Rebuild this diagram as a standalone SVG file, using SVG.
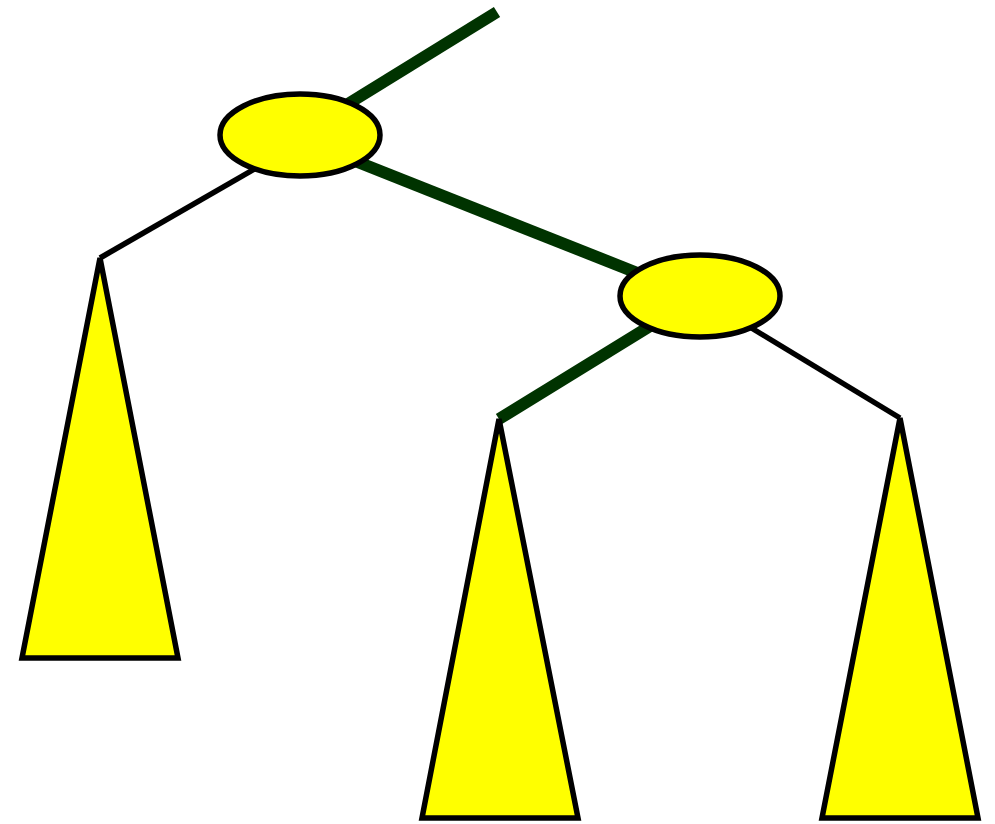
<svg xmlns="http://www.w3.org/2000/svg" width="995" height="824" viewBox="0 0 995 824">
<style>
.node{fill:#ffff00;stroke:#000;stroke-width:5.5;stroke-linejoin:miter}
.thin{stroke:#000;stroke-width:5.5;fill:none}
.thick{stroke:#003300;stroke-width:12;fill:none}
</style>
<rect width="995" height="824" fill="#fff"/>
<g id="connectors">
<line class="thick" x1="497" y1="12" x2="330" y2="115"/>
<line class="thick" x1="340" y1="155" x2="660" y2="282"/>
<line class="thick" x1="660" y1="320" x2="499" y2="419"/>
<line class="thin" x1="270" y1="160" x2="100" y2="258"/>
<line class="thin" x1="730" y1="315" x2="900" y2="418"/>
</g>
<g id="subtree-left"><polygon class="node" points="100,258 178,658 22,658"/></g>
<g id="subtree-mid"><polygon class="node" points="499,419 578,818 422,818"/></g>
<g id="subtree-right"><polygon class="node" points="900,418 978,818 822,818"/></g>
<g id="node-root"><ellipse class="node" cx="300" cy="135" rx="80" ry="41"/></g>
<g id="node-child"><ellipse class="node" cx="700" cy="296" rx="80" ry="41"/></g>
</svg>
